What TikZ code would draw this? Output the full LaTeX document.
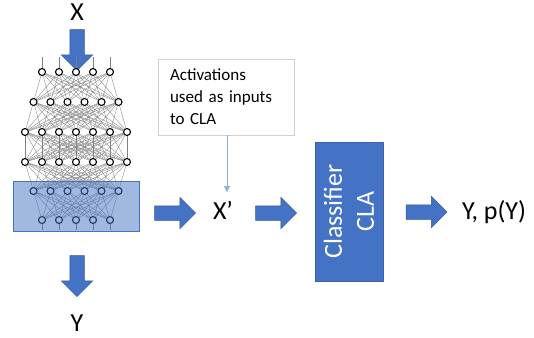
\documentclass[tikz,border=0pt]{standalone}
\usepackage{fontspec}
\setmainfont{Carlito}
\usetikzlibrary{shapes.arrows, arrows.meta, positioning}
\definecolor{ppt-blue}{HTML}{4472C4}
\definecolor{pale-blue}{HTML}{8FAADC}
\definecolor{box-gray}{HTML}{D0D0D0}
\tikzset{
    big-label/.style = {inner sep=0pt, font=\fontsize{26}{30}\selectfont},
    block-arrow/.style = {single arrow, fill=ppt-blue, draw=ppt-blue!75!black, line width=0.5pt, inner xsep=0pt, inner ysep=7pt, text height=0pt, text depth=0pt, minimum height=41pt, single arrow head extend=8.5pt},
    neuron/.style = {circle, draw=black, fill=white, line width=1.1pt, inner sep=0pt, minimum size=7pt},
    synapse/.style = {draw=black!50, line width=0.35pt},
    layer-box/.style = {rectangle, draw=ppt-blue, fill=ppt-blue, fill opacity=0.5, line width=0.8pt, minimum width=126pt, minimum height=50pt},
    note-box/.style = {rectangle, draw=box-gray, fill=white, line width=0.8pt, minimum width=136pt, minimum height=76pt, inner xsep=12pt, text width=112pt, align=left, font=\fontsize{17}{22}\selectfont},
    classifier-box/.style = {rectangle, fill=ppt-blue, draw=ppt-blue!85!black, line width=0.5pt, rotate=90, minimum width=139pt, minimum height=68pt, text=white, align=center, font=\fontsize{26}{32}\selectfont},
}

\begin{document}
\begin{tikzpicture}[x=1pt, y=-1pt]
\useasboundingbox (0,0) rectangle (534,337);

\node[big-label] (x-in) at (77,12) {X};
\node[block-arrow, rotate=-90] (arrow-in) at (77,46.5) {};

\foreach \r/\n/\y in {1/5/72, 2/6/102, 3/7/132, 4/7/162, 5/6/191, 6/5/220} {
    \foreach \i in {1,...,\n} {
        \node[neuron] (n-\r-\i) at ({76+(\i-(\n+1)/2)*17},\y) {};
    }
}
\foreach \r/\n/\s/\m in {1/5/2/6, 2/6/3/7, 3/7/4/7, 4/7/5/6, 5/6/6/5} {
    \foreach \i in {1,...,\n} {
        \foreach \j in {1,...,\m} {
            \draw[synapse] (n-\r-\i) -- (n-\s-\j);
        }
    }
}
\foreach \i in {1,...,5} {
    \draw[synapse] (n-1-\i) -- ++(0,-15);
    \draw[synapse] (n-6-\i) -- ++(0,10);
}

\node[layer-box] (cut-box) at (76,206) {};

\node[block-arrow, rotate=-90] (arrow-out) at (77,272.5) {};
\node[big-label, text depth=0pt] (y-out) at (77,323.5) {Y};

\node[block-arrow] (arrow-one) at (171.5,213) {};
\node[big-label] (x-prime) at (223,210) {X’};
\node[note-box] (note) at (226,97) {Activations\\used as inputs\\to CLA};
\draw[pale-blue, line width=0.6pt, -{Triangle[width=6pt, length=6pt]}] ([xshift=1pt]note.south) -- ([xshift=1pt]note.south |- 0,192);

\node[block-arrow] (arrow-two) at (272.5,213) {};
\node[classifier-box] (cla) at (349,211.5) {Classifier\\CLA};
\node[block-arrow] (arrow-three) at (423,212) {};
\node[big-label] (y-pred) at (494,212) {Y, p(Y)};
\end{tikzpicture}
\end{document}
